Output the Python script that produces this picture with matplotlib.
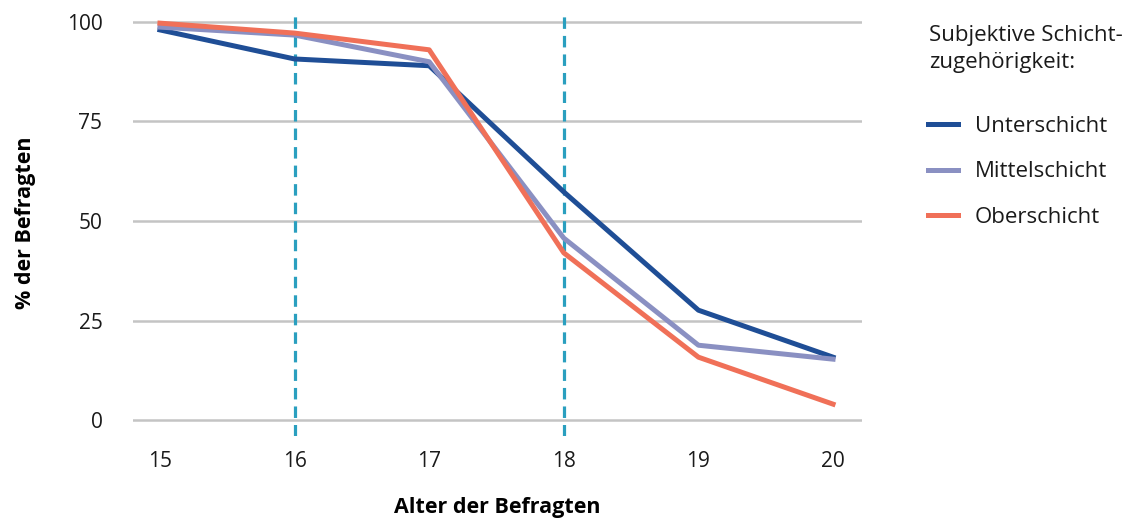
import matplotlib.pyplot as plt

# Daten
alter = [15, 16, 17, 18, 19, 20]
unterschicht = [98.0, 90.7, 89.0, 57.3, 27.6, 15.8]
mittelschicht = [98.7, 96.7, 90.0, 45.7, 18.8, 15.3]
oberschicht = [99.7, 97.2, 93.0, 42.0, 15.8, 4.0]
markierungen = [16, 18]
yticks = [0, 25, 50, 75, 100]

plt.rcParams['font.family'] = ['Open Sans', 'DejaVu Sans']

fig = plt.figure(figsize=(11.31, 5.22), dpi=100)
ax = fig.add_axes([133 / 1131, 1 - 436 / 522, (862 - 133) / 1131, (436 - 10) / 522])

for y in yticks:
    ax.axhline(y, color='#c4c4c4', lw=1.8, zorder=1)

for m in markierungen:
    ax.axvline(m, color='#2a9fbf', lw=2.3, dashes=(3.6, 2.2), zorder=2)

ax.plot(alter, unterschicht, color='#1f4e96', lw=3.6, label='Unterschicht', zorder=3)
ax.plot(alter, mittelschicht, color='#8a90c2', lw=3.6, label='Mittelschicht', zorder=3)
ax.plot(alter, oberschicht, color='#f07058', lw=3.6, label='Oberschicht', zorder=4)

ax.set_xlim(14.8, 20.215)
ax.set_ylim(-4, 103)
ax.set_xticks(alter)
ax.set_yticks(yticks)
ax.tick_params(axis='both', length=0, labelsize=15, colors='#1a1a1a')
ax.tick_params(axis='y', pad=22)
ax.tick_params(axis='x', pad=11)
for s in ax.spines.values():
    s.set_visible(False)

ax.set_xlabel('Alter der Befragten', fontsize=15.5, fontweight='bold', labelpad=18)
ax.set_ylabel('% der Befragten', fontsize=15.5, fontweight='bold', labelpad=22)

fig.text(929 / 1131, 1 - 49 / 522, 'Subjektive Schicht-\nzugehörigkeit:', fontsize=16,
         va='center', ha='left', linespacing=1.4, color='#1a1a1a')
leg = fig.legend(loc='upper left', bbox_to_anchor=(928 / 1131, 1 - 116 / 522), frameon=False,
                 fontsize=16, handlelength=1.35, handletextpad=0.75, labelspacing=1.1,
                 borderpad=0, borderaxespad=0)
for t in leg.get_texts():
    t.set_color('#1a1a1a')

fig.savefig('out.png', dpi=100)
